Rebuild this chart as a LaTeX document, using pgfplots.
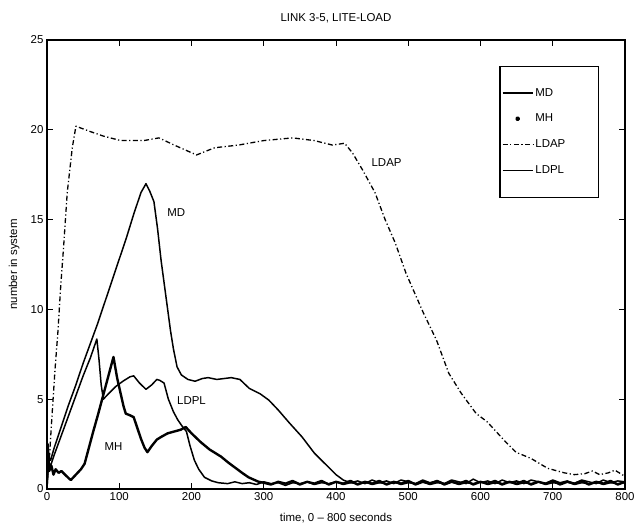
\documentclass[border=0pt]{standalone}
\usepackage{pgfplots}
\pgfplotsset{compat=1.18}
\usepackage{fontspec}
\setmainfont{Liberation Sans}
\newcommand{\legtxt}[1]{\makebox[59bp][l]{#1}}
\begin{document}
\begin{tikzpicture}
\begin{axis}[
  scale only axis, width=578bp, height=449bp,
  xmin=0, xmax=800, ymin=0, ymax=25,
  xtick={0,100,...,800}, ytick={0,5,...,25},
  xtick pos=both, ytick pos=both,
  tick align=inside, major tick length=6bp,
  every tick/.style={black, line width=1pt},
  axis line style={line width=1.2pt},
  /pgf/number format/assume math mode=true,
  tick label style={font=\fontsize{11.5}{13}\selectfont},
  title={LINK 3-5, LITE-LOAD},
  title style={font=\fontsize{11.5}{13}\selectfont, at={(0.5,1)}, anchor=south, yshift=8bp},
  xlabel={time, 0 -- 800 seconds},
  ylabel={number in system},
  label style={font=\fontsize{11.5}{13}\selectfont},
  xlabel style={at={(axis description cs:0.5,-0.0646)}, anchor=center},
  ylabel style={at={(axis description cs:-0.057,0.5)}, anchor=center},
  legend style={at={(0.955,0.943)}, anchor=north east, draw=black, line width=1.2pt,
    font=\fontsize{11.5}{13}\selectfont, row sep=12.5bp, inner xsep=2bp, inner ysep=20bp,
    cells={anchor=west}},
  legend image code/.code={\draw[#1] (0bp,0bp) -- (30bp,0bp);},
  every axis plot/.append style={black, line width=1.5pt, line join=round},
]
% MD
\addplot[line width=1.5pt] coordinates {
(0,0) (2,1.8) (5,1.6) (10,2.3) (20,3.5) (30,4.7) (40,5.8) (50,7.0) (60,8.1) (70,9.2)
(80,10.4) (90,11.6) (100,12.8) (110,14.0) (120,15.3) (130,16.5) (137,17.0) (142,16.6)
(148,16.0) (153,14.5) (158,12.7) (163,11.2) (167,10.0) (171,8.8) (175,7.8) (180,6.8)
(186,6.35) (195,6.1) (205,6.0) (215,6.15) (223,6.2) (235,6.1) (245,6.15) (255,6.2)
(267,6.1) (280,5.6) (295,5.3) (307,4.95) (320,4.4) (335,3.7) (353,2.9) (370,2.0)
(385,1.4) (400,0.8) (410,0.5) (420,0.35) (430,0.45) (440,0.3) (450,0.5) (460,0.35)
(470,0.45) (480,0.3) (490,0.5) (500,0.4) (510,0.3) (520,0.5) (530,0.35) (540,0.45)
(550,0.3) (560,0.5) (570,0.4) (580,0.3) (590,0.55) (600,0.35) (610,0.45) (620,0.3)
(630,0.5) (640,0.35) (650,0.45) (660,0.3) (670,0.5) (680,0.4) (690,0.3) (700,0.5)
(710,0.35) (720,0.45) (730,0.3) (740,0.5) (750,0.4) (760,0.3) (770,0.5) (780,0.35)
(790,0.45) (800,0.4)
};
\addlegendentry{\legtxt{MD}}
% MH
\addplot[line width=2.4pt, legend image code/.code={\fill (15bp,0bp) circle (1.3bp);}] coordinates {
(0,0.5) (1,2.5) (3,1.0) (6,1.3) (9,0.8) (12,1.1) (16,0.9) (20,1.0) (25,0.8) (30,0.6)
(33,0.5) (40,0.8) (47,1.1) (52,1.4) (58,2.3) (64,3.2) (71,4.2) (78,5.25) (85,6.3)
(92,7.35) (97,6.2) (102,5.3) (106,4.6) (109,4.2) (115,4.1) (120,4.0) (125,3.4)
(130,2.8) (135,2.3) (139,2.05) (145,2.4) (152,2.75) (158,2.9) (167,3.1) (176,3.2)
(185,3.3) (192,3.45) (200,3.1) (213,2.6) (225,2.2) (241,1.8) (250,1.5) (260,1.2)
(270,0.9) (279,0.65) (293,0.4) (300,0.35) (310,0.25) (320,0.4) (330,0.3) (340,0.45)
(350,0.25) (360,0.4) (370,0.3) (380,0.45) (390,0.25) (400,0.4) (410,0.3) (420,0.45)
(430,0.25) (440,0.4) (450,0.3) (460,0.45) (470,0.25) (480,0.4) (490,0.3) (500,0.45)
(510,0.25) (520,0.4) (530,0.3) (540,0.45) (550,0.25) (560,0.4) (570,0.3) (580,0.45)
(590,0.25) (600,0.4) (610,0.3) (620,0.45) (630,0.25) (640,0.4) (650,0.3) (660,0.45)
(670,0.25) (680,0.4) (690,0.3) (700,0.45) (710,0.25) (720,0.4) (730,0.3) (740,0.45)
(750,0.25) (760,0.4) (770,0.3) (780,0.45) (790,0.25) (800,0.4)
};
\addlegendentry{\legtxt{MH}}
% LDAP
\addplot[line width=1.3pt, dash pattern=on 5bp off 2.5bp on 1.2bp off 2.5bp] coordinates {
(0,0.5) (3,1.5) (6,3.5) (11,6.6) (15,8.7) (19,11.3) (23,13.5) (28,16.5) (35,19.0)
(40,20.2) (60,19.9) (78,19.65) (102,19.4) (134,19.4) (155,19.55) (176,19.15) (207,18.6)
(232,19.0) (265,19.15) (300,19.4) (340,19.55) (370,19.4) (395,19.15) (412,19.25)
(423,18.7) (437,17.75) (454,16.5) (468,15.0) (482,13.7) (497,12.0) (521,9.8) (539,8.3)
(556,6.45) (573,5.35) (594,4.2) (609,3.75) (633,2.7) (649,2.05) (670,1.7) (693,1.15)
(716,0.9) (730,0.8) (744,0.85) (755,1.0) (765,0.8) (777,0.9) (786,1.05) (796,0.8) (800,0.7)
};
\addlegendentry{\legtxt{LDAP}}
% LDPL
\addplot[line width=1.5pt] coordinates {
(0,0) (2,1.5) (5,1.3) (10,1.9) (20,3.0) (30,4.1) (40,5.2) (50,6.3) (60,7.3) (66,8.0)
(69,8.35) (72,7.2) (75,5.8) (78,5.0) (85,5.3) (95,5.7) (105,6.0) (115,6.25) (120,6.3)
(128,5.9) (137,5.55) (145,5.8) (152,6.1) (156,6.05) (162,5.9) (168,5.0) (175,4.3)
(181,3.85) (187,3.5) (193,3.2) (198,2.4) (204,1.6) (210,1.1) (218,0.65) (228,0.45)
(237,0.35) (250,0.3) (260,0.4) (270,0.3) (280,0.35) (290,0.25) (300,0.4) (310,0.3)
(320,0.35) (330,0.2) (340,0.35) (350,0.3) (360,0.4) (370,0.25) (380,0.35) (390,0.3)
(400,0.4) (410,0.25) (420,0.35) (430,0.3) (440,0.4) (450,0.25) (460,0.35) (470,0.3)
(480,0.4) (490,0.25) (500,0.35) (510,0.3) (520,0.4) (530,0.25) (540,0.35) (550,0.3)
(560,0.4) (570,0.25) (580,0.35) (590,0.3) (600,0.4) (610,0.25) (620,0.35) (630,0.3)
(640,0.4) (650,0.25) (660,0.35) (670,0.3) (680,0.4) (690,0.25) (700,0.35) (710,0.3)
(720,0.4) (730,0.25) (740,0.35) (750,0.3) (760,0.4) (770,0.25) (780,0.35) (790,0.3) (800,0.35)
};
\addlegendentry{\legtxt{LDPL}}
\node[font=\fontsize{11.5}{13}\selectfont] at (axis cs:179,15.4) {MD};
\node[font=\fontsize{11.5}{13}\selectfont] at (axis cs:470,18.2) {LDAP};
\node[font=\fontsize{11.5}{13}\selectfont] at (axis cs:200,4.95) {LDPL};
\node[font=\fontsize{11.5}{13}\selectfont] at (axis cs:92,2.35) {MH};
\end{axis}
\pgfresetboundingbox
\path[use as bounding box] ([shift={(-47bp,-40bp)}]current axis.south west) rectangle ([shift={(12bp,40bp)}]current axis.north east);
\end{tikzpicture}
\end{document}
